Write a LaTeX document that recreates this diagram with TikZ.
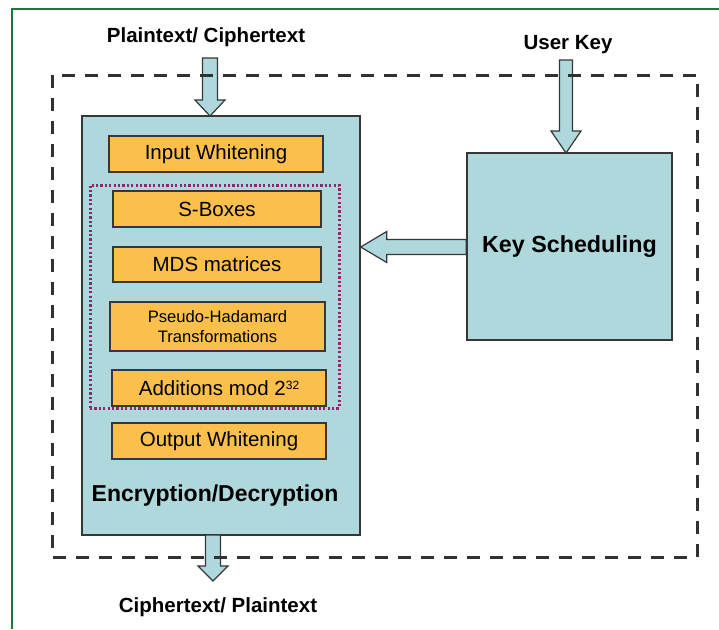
\documentclass[tikz,border=0pt]{standalone}
\usepackage{fontspec}
\setmainfont{Liberation Sans}
\usetikzlibrary{calc}
\definecolor{teal1}{RGB}{174,216,220}
\definecolor{orng}{RGB}{251,192,76}
\definecolor{edge}{RGB}{55,55,55}
\definecolor{dotc}{RGB}{140,40,110}
\definecolor{frame}{RGB}{30,120,60}
\tikzset{
  tbox/.style={draw=edge, line width=1.4pt, fill=teal1, inner sep=0pt},
  obox/.style={draw=edge, line width=1.4pt, fill=orng, inner sep=0pt, font=\fontsize{20.5}{22}\selectfont, align=center},
  barrow/.style={draw=edge, line width=1.2pt, fill=teal1, line join=miter},
  lbl/.style={font=\bfseries\fontsize{20.5}{23}\selectfont, inner sep=0pt},
  outer/.style={draw=edge!90!black, line width=3pt, dash pattern=on 13pt off 10pt},
  dotbox/.style={draw=dotc, line width=3pt, dash pattern=on 2.2pt off 2.2pt, inner sep=0pt}
}
\begin{document}
\begin{tikzpicture}[x=1pt,y=-1pt]
\useasboundingbox (0,0) rectangle (719,629);
\fill[white] (0,0) rectangle (719,629);
% green frame
\draw[frame, line width=2pt] (12,629) -- (12,9) -- (719,9);

% labels
\node[lbl] (pt) at (206,37) {Plaintext/ Ciphertext};
\node[lbl] (uk) at (568,45) {User Key};
\node[lbl] (ct) at (218,607) {Ciphertext/ Plaintext};

% encryption box
\node[tbox, minimum width=278pt, minimum height=419pt] (enc) at (221,325.5) {};
\node[obox, minimum width=214pt, minimum height=36pt] (iw) at (216,154) {Input Whitening};
\node[dotbox, minimum width=249pt, minimum height=223pt] (dots) at (214.5,296.5) {};
\node[obox, minimum width=208pt, minimum height=36pt] (sb) at (217,209) {S-Boxes};
\node[obox, minimum width=208pt, minimum height=35pt] (mds) at (217,264.5) {MDS matrices};
\node[obox, minimum width=215pt, minimum height=49pt, font=\fontsize{16.6}{20}\selectfont] (ph) at (217.5,326.5) {Pseudo-Hadamard\\Transformations};
\node[obox, minimum width=214pt, minimum height=36pt] (add) at (219,388) {Additions mod 2\raisebox{6pt}{\fontsize{12}{12}\selectfont 32}};
\node[obox, minimum width=214pt, minimum height=36pt] (ow) at (219,441) {Output Whitening};
\node[font=\bfseries\fontsize{23}{25}\selectfont, inner sep=0pt] (encl) at (215,496) {Encryption/Decryption};

% key scheduling
\node[tbox, minimum width=205pt, minimum height=187pt, font=\bfseries\fontsize{23.3}{25}\selectfont] (key) at (569.5,246.5) {Key Scheduling};

% block arrows
\coordinate (a1s) at (210,58);
\coordinate (a1t) at (210,116);
\coordinate (a2s) at (566,60);
\coordinate (a2t) at (566,153);
\coordinate (a3s) at (213,535);
\coordinate (a3t) at (213,581);
\coordinate (a4s) at (key.west |- 0,247);
\coordinate (a4t) at (enc.east |- 0,247);

\draw[barrow] let \p1=(a1s), \p2=(a1t) in
  (\x1-7.5pt,\y1) -- (\x1-7.5pt,\y2+16pt) -- (\x1-15pt,\y2+16pt) -- (\x2,\y2)
  -- (\x1+15pt,\y2+16pt) -- (\x1+7.5pt,\y2+16pt) -- (\x1+7.5pt,\y1) -- cycle;
\draw[barrow] let \p1=(a2s), \p2=(a2t) in
  (\x1-6.5pt,\y1) -- (\x1-6.5pt,\y2+22pt) -- (\x1-15pt,\y2+22pt) -- (\x2,\y2)
  -- (\x1+15pt,\y2+22pt) -- (\x1+6.5pt,\y2+22pt) -- (\x1+6.5pt,\y1) -- cycle;
\draw[barrow] let \p1=(a3s), \p2=(a3t) in
  (\x1-7.5pt,\y1) -- (\x1-7.5pt,\y2+15pt) -- (\x1-15pt,\y2+15pt) -- (\x2,\y2)
  -- (\x1+15pt,\y2+15pt) -- (\x1+7.5pt,\y2+15pt) -- (\x1+7.5pt,\y1) -- cycle;
\draw[barrow] let \p1=(a4s), \p2=(a4t) in
  (\x1,\y1+7.5pt) -- (\x2+26pt,\y1+7.5pt) -- (\x2+26pt,\y1+15.5pt) -- (\x2,\y2)
  -- (\x2+26pt,\y1-15.5pt) -- (\x2+26pt,\y1-7.5pt) -- (\x1,\y1-7.5pt) -- cycle;

% outer dashed boundary
\draw[outer] (52,75) rectangle (697,557);
\end{tikzpicture}
\end{document}
